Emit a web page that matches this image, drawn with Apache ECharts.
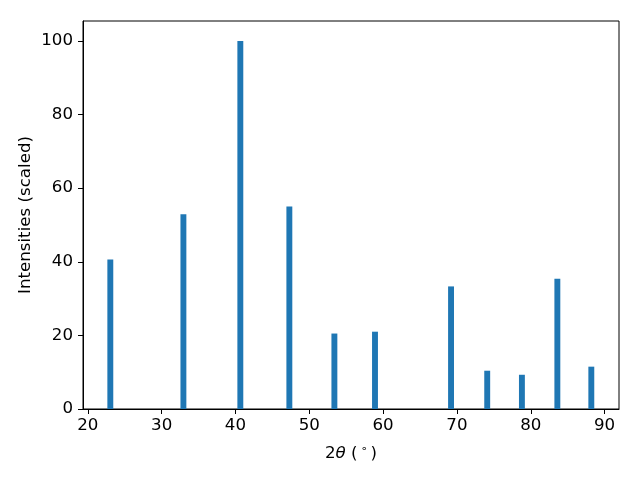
<!DOCTYPE html>
<html>
<head>
<meta charset="utf-8">
<script src="https://cdn.jsdelivr.net/npm/echarts@6/dist/echarts.min.js"></script>
<style>html,body{margin:0;padding:0;background:#fff}#c{width:640px;height:480px}</style>
</head>
<body>
<div id="c"></div>
<script>
var positions = [23.05, 32.95, 40.66, 47.3, 53.4, 58.9, 69.2, 74.1, 78.8, 83.6, 88.2];
var intensities = [40.6, 52.9, 100, 55.0, 20.5, 21.0, 33.3, 10.4, 9.3, 35.4, 11.5];
var xTicks = [20, 30, 40, 50, 60, 70, 80, 90];
var yTicks = [0, 20, 40, 60, 80, 100];
var barWidthData = 0.8;

var data = positions.map(function (p, i) { return [p, intensities[i]]; });
var font = 'DejaVu Sans';
var fs = 16.67;
var chart = echarts.init(document.getElementById('c'), null, {renderer: 'canvas'});
chart.setOption({
  animation: false,
  backgroundColor: '#fff',
  grid: {left: 83, right: 21, top: 21, bottom: 71, show: true, borderColor: '#000', borderWidth: 1, backgroundColor: 'transparent'},
  xAxis: {
    type: 'value', min: 19.35, max: 91.95,
    axisLine: {show: true, onZero: false, lineStyle: {color: '#000', width: 1}},
    axisTick: {show: true, length: 5, lineStyle: {color: '#000', width: 1}, customValues: xTicks},
    axisLabel: {color: '#000', fontFamily: font, fontSize: fs, margin: 8, customValues: xTicks},
    splitLine: {show: false},
    name: '{n|2}{i|θ}{n| (}{s|∘}{n|)}',
    nameLocation: 'middle', nameGap: 35, nameMoveOverlap: false,
    nameTextStyle: {
      color: '#000', fontFamily: font, fontSize: fs,
      rich: {
        n: {fontFamily: font, fontSize: fs, color: '#000'},
        i: {fontFamily: font, fontSize: fs, fontStyle: 'italic', color: '#000'},
        s: {fontFamily: font, fontSize: 11, color: '#000', padding: [0, 3, 9, 3]}
      }
    }
  },
  yAxis: {
    type: 'value', min: 0, max: 105.4,
    axisLine: {show: true, lineStyle: {color: '#000', width: 1}},
    axisTick: {show: true, length: 5, lineStyle: {color: '#000', width: 1}, customValues: yTicks},
    axisLabel: {color: '#000', fontFamily: font, fontSize: fs, margin: 10, customValues: yTicks},
    splitLine: {show: false},
    name: 'Intensities (scaled)', nameLocation: 'middle', nameGap: 49, nameMoveOverlap: false,
    nameTextStyle: {color: '#000', fontFamily: font, fontSize: fs}
  },
  series: [{
    type: 'custom',
    data: data,
    renderItem: function (params, api) {
      var x = api.value(0), y = api.value(1);
      var top = api.coord([x, y]);
      var bottom = api.coord([x, 0]);
      var w = api.size([barWidthData, 0])[0];
      return {
        type: 'rect',
        shape: {x: top[0] - w / 2, y: top[1], width: w, height: bottom[1] - top[1]},
        style: {fill: '#1f77b4'}
      };
    },
    encode: {x: 0, y: 1}
  }]
});
</script>
</body>
</html>
